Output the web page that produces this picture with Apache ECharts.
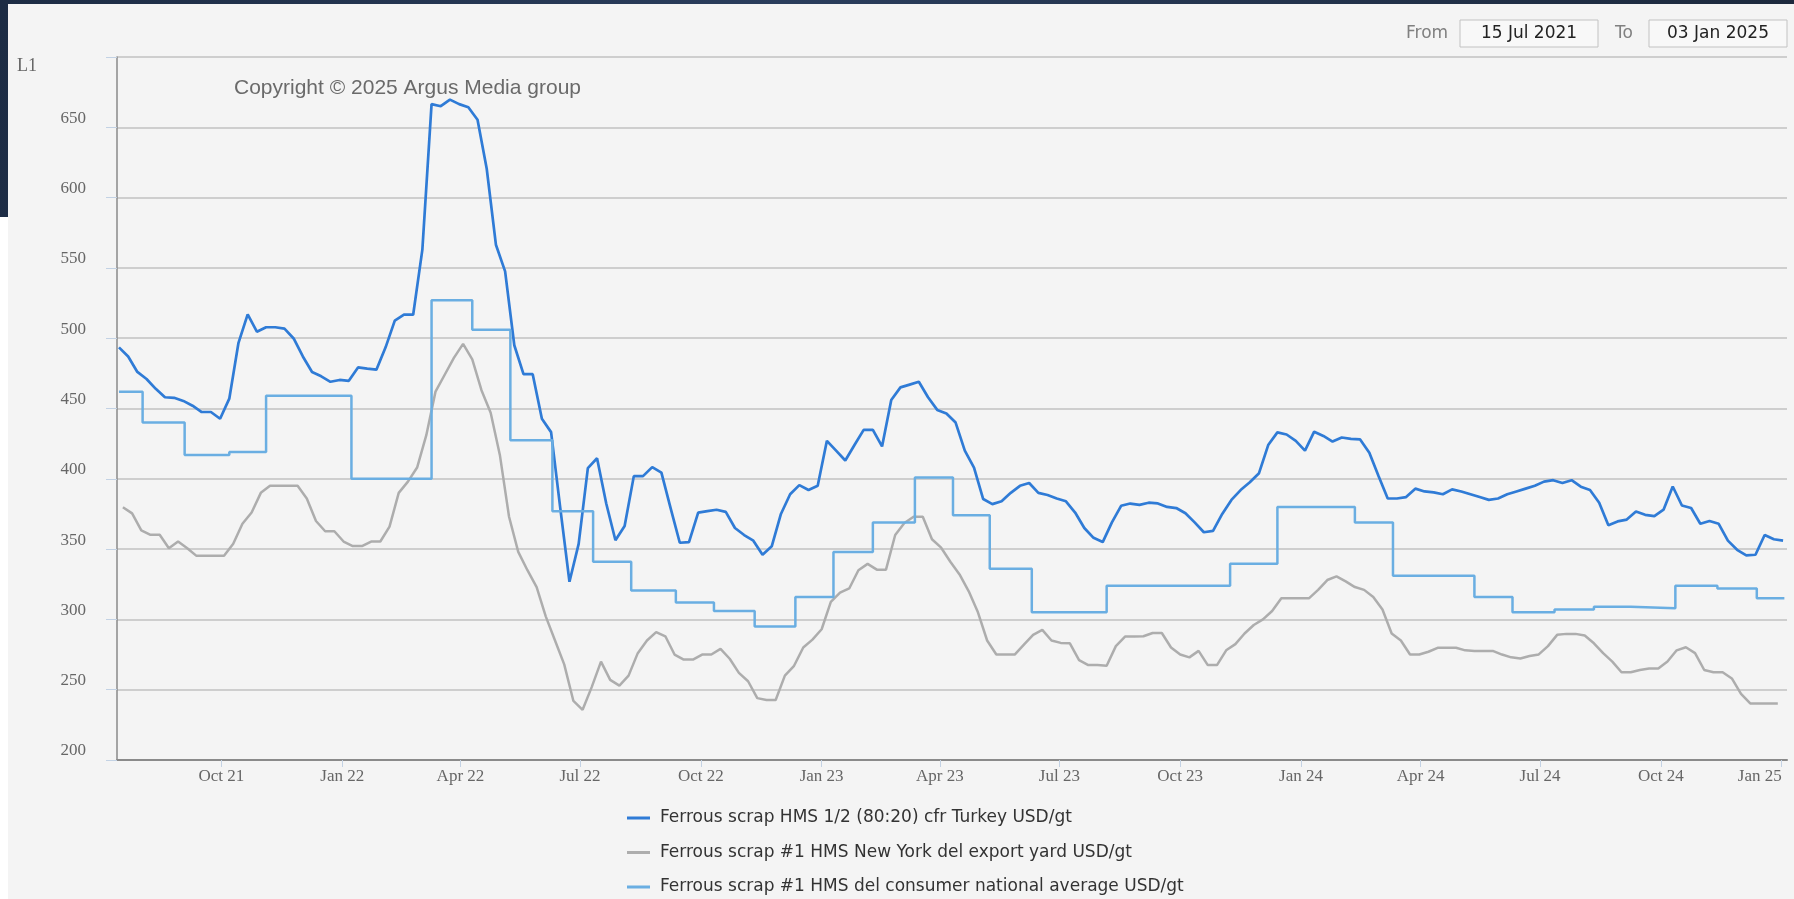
<!DOCTYPE html>
<html>
<head>
<meta charset="utf-8">
<title>Ferrous scrap prices</title>
<script src="https://cdn.jsdelivr.net/npm/echarts@6/dist/echarts.min.js"></script>
<style>
  html, body { margin: 0; padding: 0; width: 1794px; height: 899px; overflow: hidden; }
  body { background: linear-gradient(100deg, #1d2c44 0%, #2a3d5c 40%, #1a2638 100%); position: relative; }
  #strip { position: absolute; left: 0; top: 217px; width: 8px; bottom: 0; background: #ffffff; }
  #panel { position: absolute; left: 8px; top: 4px; right: 0; bottom: 0; background: #f4f4f4; }
  #chart { position: absolute; left: 0; top: 0; width: 1794px; height: 899px; }
</style>
</head>
<body>
<div id="strip"></div>
<div id="panel"></div>
<div id="chart"></div>
<script>
// weekly Turkey HMS 1/2 (80:20) cfr, USD/gt
var turkeyStart = '2021-07-15';
var turkeyValues = [
    493.5, 487, 476, 471, 464, 458, 457.6, 455.4, 452, 447.5,
    447.5, 442.7, 457, 496.7, 517, 504.6, 507.8, 507.8, 506.8, 499.8,
    487, 476, 472.9, 469, 470.3, 469.7, 479.2, 478.3, 477.6, 493.5,
    512.5, 516.7, 516.7, 563, 666.5, 665, 669.7, 666.5, 664.3, 655.4,
    620.5, 566.5, 547.5, 495, 474.4, 474.4, 442.7, 433.2, 379.2, 326.8,
    353.7, 407.6, 414.6, 382.4, 356.3, 366.5, 401.9, 401.9, 408.3, 404.4,
    379.2, 354.5, 355, 376, 377, 378, 376.5, 365, 360, 356,
    346, 352, 375, 389, 395.5, 392, 395, 427, 420, 413,
    424, 434.8, 434.8, 423, 456, 465, 467, 469, 458, 449,
    446.5, 440, 420, 408, 385.6, 382, 384, 390, 395, 397,
    390, 388.5, 386, 384, 376, 365, 358, 355, 369, 380.8,
    382.4, 381.5, 383, 382.5, 380, 379.2, 375.5, 369, 362, 363,
    375, 385, 392, 397.5, 404, 424, 433, 431.5, 427, 420,
    433.5, 430.5, 426.5, 429.4, 428.4, 428, 418.5, 402, 386, 386,
    387, 393, 391, 390.3, 389, 392.5, 391, 389, 387, 385,
    386, 389, 391, 393, 395, 398, 399, 397, 399, 394.4,
    392, 383, 367, 369.7, 371, 376.7, 374.4, 373.5, 378, 394.5,
    381, 379.2, 368, 370, 368, 356, 349.5, 345.5, 346, 360,
    357, 356
];

// weekly New York #1 HMS del export yard, USD/gt
var nyStart = '2021-07-18';
var nyValues = [
    379.8, 375.4, 363.3, 360.2, 360.2, 350.6, 355.4, 350.6, 345.2, 345.2,
    345.2, 345.2, 353.8, 368, 376, 390, 395, 395, 395, 395,
    386, 370, 362.7, 362.7, 355.4, 352.2, 352.2, 355.4, 355.4, 366,
    390, 398, 408, 431, 462, 474, 486, 496, 485, 463,
    447, 417, 373, 348, 335, 323, 302, 285, 268, 242,
    235.7, 252, 270, 257, 252.9, 260, 276, 285, 291, 288,
    275, 271.4, 271.4, 275, 275, 279, 272, 262, 256, 244,
    242.7, 242.7, 260, 267, 280, 285.6, 293, 312.5, 319, 322,
    335, 339.5, 335.4, 335.4, 360, 368.5, 373, 373, 357, 351,
    341, 332, 320, 305, 285, 275, 275, 275, 282, 289,
    292.5, 285, 283.3, 283, 271, 267.5, 267.5, 267, 281, 287.8,
    287.8, 288, 290.3, 290.3, 280, 275, 273, 277.6, 267.5, 267.5,
    278, 282.4, 290, 296, 300, 306, 315, 315, 315, 315,
    321, 328, 330.6, 327, 323, 321, 316, 307, 290, 285,
    275, 275, 277, 279.8, 279.8, 279.8, 278, 277.6, 277.6, 277.6,
    275, 273, 272.2, 274, 275.1, 281, 289, 289.7, 289.7, 288.5,
    283, 276, 270, 262.4, 262.4, 264, 265, 265, 270, 278,
    280.2, 276, 264, 262.4, 262.4, 258, 247, 240.2, 240.2, 240.2,
    240.2
];

// monthly consumer national average: date each new price took effect
var consumerDates = [
    '2021-07-15', '2021-08-02', '2021-09-03', '2021-10-07', '2021-11-04', '2022-01-08',
    '2022-03-10', '2022-04-10', '2022-05-09', '2022-06-10', '2022-07-11', '2022-08-09',
    '2022-09-12', '2022-10-11', '2022-11-11', '2022-12-12', '2023-01-10', '2023-02-09',
    '2023-03-13', '2023-04-11', '2023-05-09', '2023-06-10', '2023-08-06', '2023-11-08',
    '2023-12-14', '2024-02-11', '2024-03-11', '2024-05-12', '2024-06-10', '2024-07-12',
    '2024-08-11', '2024-09-08', '2024-10-12', '2024-11-13', '2024-12-13', '2025-01-03'
];
var consumerValues = [
    462, 440, 417, 419, 459, 400,
    527, 506, 427.5, 377, 341, 320.5,
    312, 306, 295, 316, 348, 369,
    401, 374, 336, 305, 324, 339.5,
    380, 369, 331, 316, 305, 307,
    309, 308, 324, 322, 315, 315
];

var seriesNames = [
    'Ferrous scrap HMS 1/2 (80:20) cfr Turkey USD/gt',
    'Ferrous scrap #1 HMS New York del export yard USD/gt',
    'Ferrous scrap #1 HMS del consumer national average USD/gt'
];
var seriesColors = ['#2f7bd6', '#adadad', '#6aaee2'];

var tickDates = [
    '2021-10-01', '2022-01-01', '2022-04-01', '2022-07-01', '2022-10-01', '2023-01-01', '2023-04-01',
    '2023-07-01', '2023-10-01', '2024-01-01', '2024-04-01', '2024-07-01', '2024-10-01', '2025-01-01'
];
var tickLabels = [
    'Oct 21', 'Jan 22', 'Apr 22', 'Jul 22', 'Oct 22', 'Jan 23', 'Apr 23',
    'Jul 23', 'Oct 23', 'Jan 24', 'Apr 24', 'Jul 24', 'Oct 24', 'Jan 25'
];

var dateFrom = '15 Jul 2021';
var dateTo = '03 Jan 2025';

function toTime(s) {
    return echarts.number.parseDate(s).getTime();
}
function weekly(start, values) {
    var d0 = echarts.number.parseDate(start);
    return values.map(function (v, i) {
        return [new Date(d0.getFullYear(), d0.getMonth(), d0.getDate() + 7 * i).getTime(), v];
    });
}

var tickTimes = tickDates.map(toTime);
var serif = '"Liberation Serif", "DejaVu Serif", serif';
var sans = '"DejaVu Sans", sans-serif';

var chart = echarts.init(document.getElementById('chart'));
var option = {
    animation: false,
    backgroundColor: 'transparent',
    color: seriesColors,
    grid: { left: 117, right: 7, top: 57, bottom: 139, containLabel: false },
    legend: {
        orient: 'vertical',
        left: 627,
        top: 808,
        height: 91,
        padding: 0,
        icon: 'rect',
        itemWidth: 23,
        itemHeight: 3,
        itemGap: 14.5,
        data: seriesNames,
        textStyle: { fontFamily: sans, fontSize: 17, color: '#333', lineHeight: 20, padding: [0, 0, 0, 5] }
    },
    // time runs on a value axis (timestamps) so the quarter ticks can be placed exactly
    xAxis: {
        type: 'value',
        min: toTime('2021-07-13') + 12 * 3600 * 1000,
        max: toTime('2025-01-05'),
        axisLine: { show: true, onZero: false, lineStyle: { color: '#8a8a8a', width: 2 } },
        axisTick: { show: true, customValues: tickTimes, length: 7, lineStyle: { color: '#c3d2e4', width: 1 } },
        axisLabel: {
            customValues: tickTimes,
            fontFamily: serif,
            fontSize: 17,
            color: '#666',
            margin: 8,
            alignMaxLabel: 'right',
            formatter: function (v) {
                var i = tickTimes.indexOf(v);
                return i >= 0 ? tickLabels[i] : '';
            }
        },
        splitLine: { show: false }
    },
    yAxis: {
        type: 'value',
        min: 200,
        max: 700,
        interval: 50,
        axisLine: { show: true, lineStyle: { color: '#8a8a8a', width: 1.5 } },
        axisTick: { show: true, length: 11, lineStyle: { color: '#c3d2e4', width: 1 } },
        axisLabel: {
            fontFamily: serif,
            fontSize: 17,
            color: '#666',
            margin: 31,
            verticalAlign: 'bottom',
            lineHeight: 18,
            formatter: function (v) { return v === 700 ? '' : String(v); }
        },
        splitLine: { show: true, lineStyle: { color: '#c2c2c2', width: 1.5 } }
    },
    graphic: [
        { type: 'text', left: 17, top: 57, style: { text: 'L1', font: '18px ' + serif, fill: '#666' } },
        { type: 'text', left: 234, top: 78, style: { text: 'Copyright \u00a9 2025 Argus Media group', font: '21px "Liberation Sans", Arial, sans-serif', fill: '#6a6a6a' } },
        { type: 'text', left: 1406, top: 25, style: { text: 'From', font: '17px ' + sans, fill: '#808080' } },
        { type: 'rect', shape: { x: 1460, y: 20, width: 138, height: 27 }, style: { fill: '#f8f8f8', stroke: '#c2c2c2', lineWidth: 1 } },
        { type: 'text', x: 1529, y: 34, style: { text: dateFrom, font: '17px ' + sans, fill: '#222', align: 'center', verticalAlign: 'middle' } },
        { type: 'text', left: 1615, top: 25, style: { text: 'To', font: '17px ' + sans, fill: '#808080' } },
        { type: 'rect', shape: { x: 1649, y: 20, width: 138, height: 27 }, style: { fill: '#f8f8f8', stroke: '#c2c2c2', lineWidth: 1 } },
        { type: 'text', x: 1718, y: 34, style: { text: dateTo, font: '17px ' + sans, fill: '#222', align: 'center', verticalAlign: 'middle' } }
    ],
    series: [
        {
            name: seriesNames[0],
            type: 'line',
            showSymbol: false,
            lineStyle: { width: 2.7 },
            data: weekly(turkeyStart, turkeyValues)
        },
        {
            name: seriesNames[1],
            type: 'line',
            showSymbol: false,
            lineStyle: { width: 2.5 },
            data: weekly(nyStart, nyValues)
        },
        {
            name: seriesNames[2],
            type: 'line',
            step: 'end',
            showSymbol: false,
            lineStyle: { width: 2.5 },
            data: consumerDates.map(function (d, i) { return [toTime(d), consumerValues[i]]; })
        }
    ]
};
chart.setOption(option);
window.addEventListener('resize', function () { chart.resize(); });
</script>
</body>
</html>
